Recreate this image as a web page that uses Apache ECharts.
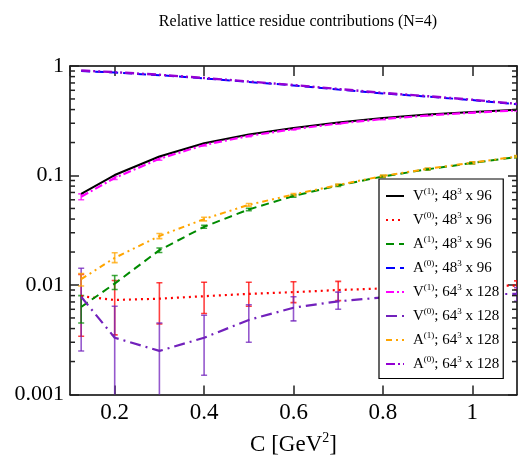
<!DOCTYPE html>
<html>
<head>
<meta charset="utf-8">
<script src="https://cdn.jsdelivr.net/npm/echarts@6/dist/echarts.min.js"></script>
<style>html,body{margin:0;padding:0;background:#fff}#main{width:518px;height:461px}</style>
</head>
<body>
<div id="main"></div>
<script>
// x values (C in GeV^2)
var xVals = [0.125, 0.2, 0.3, 0.4, 0.5, 0.6, 0.7, 0.8, 0.9, 1.0, 1.1];

// series names, ^ marks a superscript
var seriesNames = [
  'V^(1); 48^3 x 96', 'V^(0); 48^3 x 96', 'A^(1); 48^3 x 96', 'A^(0); 48^3 x 96',
  'V^(1); 64^3 x 128', 'V^(0); 64^3 x 128', 'A^(1); 64^3 x 128', 'A^(0); 64^3 x 128'
];

var V1_48 = [0.068, 0.101, 0.149, 0.197, 0.237, 0.272, 0.305, 0.335, 0.360, 0.380, 0.398];
var V0_48 = [0.0079, 0.0073, 0.0075, 0.0079, 0.0083, 0.0086, 0.0090, 0.0093, 0.0095, 0.0097, 0.0099];
var A1_48 = [0.0063, 0.0103, 0.0208, 0.034, 0.049, 0.065, 0.081, 0.098, 0.114, 0.130, 0.148];
var A0_48 = [0.900, 0.870, 0.825, 0.770, 0.715, 0.665, 0.610, 0.562, 0.525, 0.488, 0.447];
var V1_64 = [0.064, 0.095, 0.142, 0.190, 0.230, 0.265, 0.298, 0.328, 0.353, 0.375, 0.393];
var V0_64 = [0.0078, 0.0033, 0.0025, 0.0033, 0.0048, 0.0062, 0.0071, 0.0077, 0.0080, 0.0082, 0.0083];
var A1_64 = [0.0113, 0.0177, 0.028, 0.040, 0.054, 0.067, 0.082, 0.099, 0.115, 0.131, 0.149];
var A0_64 = [0.910, 0.878, 0.832, 0.777, 0.722, 0.670, 0.617, 0.568, 0.530, 0.492, 0.451];

// error bars (low / high)
var V0_48_lo = [0.0034, 0.0035, 0.0044, 0.0055, 0.0064, 0.0069, 0.0072, 0.0076, 0.0078, 0.0080, 0.0091];
var V0_48_hi = [0.0125, 0.0110, 0.0105, 0.0106, 0.0106, 0.0107, 0.0108, 0.0108, 0.0109, 0.0110, 0.0109];
var V0_64_lo = [0.0025, 0.0008, 0.0008, 0.0015, 0.0030, 0.0047, 0.0060, 0.0065, 0.0068, 0.0070, 0.0071];
var V0_64_hi = [0.0142, 0.0064, 0.0045, 0.0053, 0.0066, 0.0078, 0.0086, 0.0091, 0.0093, 0.0094, 0.0095];
var A1_48_lo = [0.0045, 0.0091, 0.0198, 0.0330, 0.0478, 0.0635, 0.0795, 0.0962, 0.112, 0.1275, 0.145];
var A1_48_hi = [0.0080, 0.0122, 0.0218, 0.0350, 0.0502, 0.0665, 0.0825, 0.0998, 0.116, 0.1325, 0.151];
var A1_64_lo = [0.0098, 0.0160, 0.0265, 0.0385, 0.0525, 0.0655, 0.0805, 0.0972, 0.113, 0.1285, 0.146];
var A1_64_hi = [0.0127, 0.0197, 0.0295, 0.0415, 0.0555, 0.0685, 0.0835, 0.1008, 0.117, 0.1335, 0.152];
var V1_64_lo = [0.060, 0.092, 0.138, 0.186, 0.226, 0.261, 0.294, 0.324, 0.349, 0.371, 0.389];
var V1_64_hi = [0.068, 0.098, 0.146, 0.194, 0.234, 0.269, 0.302, 0.332, 0.357, 0.379, 0.397];

var yTickLabels = ['0.001', '0.01', '0.1', '1'];
var minorTickValues = [0.002, 0.003, 0.004, 0.005, 0.006, 0.007, 0.008, 0.009,
  0.02, 0.03, 0.04, 0.05, 0.06, 0.07, 0.08, 0.09,
  0.2, 0.3, 0.4, 0.5, 0.6, 0.7, 0.8, 0.9];

var FONT = 'Liberation Serif';

function pairs(arr) {
  return xVals.map(function (x, i) { return [x, arr[i]]; });
}

function lineSeries(name, arr, color, dash, width) {
  return {
    type: 'line', name: name, data: pairs(arr),
    symbol: 'none', z: 3,
    lineStyle: { color: color, width: width || 2, type: dash },
    itemStyle: { color: color }
  };
}

function errSeries(lo, hi, color) {
  return {
    type: 'custom', name: 'err', silent: true, clip: true, z: 2,
    encode: { x: 0, y: [1, 2] },
    data: xVals.map(function (x, i) { return [x, lo[i], hi[i]]; }),
    renderItem: function (params, api) {
      var x = api.value(0);
      var p1 = api.coord([x, api.value(1)]);
      var p2 = api.coord([x, api.value(2)]);
      var hw = 3;
      var st = { stroke: color, lineWidth: 1.6, opacity: 0.75 };
      return {
        type: 'group', children: [
          { type: 'line', shape: { x1: p1[0], y1: p1[1], x2: p2[0], y2: p2[1] }, style: st },
          { type: 'line', shape: { x1: p1[0] - hw, y1: p1[1], x2: p1[0] + hw, y2: p1[1] }, style: st },
          { type: 'line', shape: { x1: p2[0] - hw, y1: p2[1], x2: p2[0] + hw, y2: p2[1] }, style: st }
        ]
      };
    }
  };
}

var minorTicks = {
  type: 'custom', name: 'minor', silent: true, clip: false, z: 5,
  data: minorTickValues.map(function (v) { return [0.5, v]; }),
  renderItem: function (params, api) {
    var y = api.coord([0.5, api.value(1)])[1];
    var cs = params.coordSys;
    var st = { stroke: '#222', lineWidth: 1.5 };
    return {
      type: 'group', children: [
        { type: 'line', shape: { x1: cs.x, y1: y, x2: cs.x + 5, y2: y }, style: st },
        { type: 'line', shape: { x1: cs.x + cs.width - 5, y1: y, x2: cs.x + cs.width, y2: y }, style: st }
      ]
    };
  }
};

var chart = echarts.init(document.getElementById('main'), null, { renderer: 'canvas' });

var axisLine = { show: true, lineStyle: { color: '#000', width: 1.5 } };
var tickStyle = { color: '#222', width: 1.5 };

var option = {
  animation: false,
  backgroundColor: '#fff',
  title: {
    text: 'Relative lattice residue contributions (N=4)',
    left: 298, top: 14, textAlign: 'center', padding: 0,
    textStyle: { fontFamily: FONT, fontSize: 16, fontWeight: 'normal', color: '#000' }
  },
  grid: { left: 70, right: 1, top: 66, bottom: 63 },
  xAxis: [{
    type: 'value', min: 0.1, max: 1.1, splitNumber: 5,
    axisLine: axisLine,
    axisTick: { inside: true, length: 9, lineStyle: tickStyle },
    splitLine: { show: false },
    axisLabel: { showMinLabel: false, showMaxLabel: false, margin: 7, fontFamily: FONT, fontSize: 23, color: '#000' },
    name: 'C [GeV{sup|2}]', nameLocation: 'middle', nameGap: 37,
    nameTextStyle: {
      fontFamily: FONT, fontSize: 23, color: '#000',
      rich: { sup: { fontFamily: FONT, fontSize: 14, color: '#000', padding: [0, 0, 12, 0] } }
    }
  }, {
    type: 'value', min: 0.1, max: 1.1, splitNumber: 5, position: 'top',
    axisLine: axisLine,
    axisTick: { inside: true, length: 10, lineStyle: tickStyle },
    splitLine: { show: false }, axisLabel: { show: false }
  }],
  yAxis: [{
    type: 'log', logBase: 10, min: 0.001, max: 1,
    axisLine: axisLine,
    axisTick: { inside: true, length: 9, lineStyle: tickStyle },
    splitLine: { show: false },
    axisLabel: {
      margin: 6, fontFamily: FONT, fontSize: 22, color: '#000',
      formatter: function (v) { return yTickLabels[Math.round(Math.log10(v)) + 3]; }
    }
  }, {
    type: 'log', logBase: 10, min: 0.001, max: 1, position: 'right',
    axisLine: axisLine,
    axisTick: { inside: true, length: 9, lineStyle: tickStyle },
    splitLine: { show: false }, axisLabel: { show: false }
  }],
  legend: {
    data: seriesNames, orient: 'vertical', left: 379, top: 179, z: 10,
    backgroundColor: '#fff', borderColor: '#000', borderWidth: 1.2, borderRadius: 0,
    padding: [8, 4, 7, 6], itemWidth: 18, itemHeight: 12, itemGap: 7.5,
    selectedMode: false,
    itemStyle: { opacity: 0 },
    textStyle: {
      fontFamily: FONT, fontSize: 15, color: '#000', padding: [0, 0, 0, 4],
      rich: {
        sup: { fontFamily: FONT, fontSize: 9, color: '#000', padding: [0, 0, 9, 0] }
      }
    },
    formatter: function (name) {
      return name.replace(/\^(\(\d\)|\d)/g, '{sup|$1}');
    }
  },
  series: [
    errSeries(V0_48_lo, V0_48_hi, '#ff0000'),
    errSeries(V0_64_lo, V0_64_hi, '#7221bc'),
    errSeries(A1_48_lo, A1_48_hi, '#008b00'),
    errSeries(A1_64_lo, A1_64_hi, '#ffa500'),
    errSeries(V1_64_lo, V1_64_hi, '#ff00ff'),
    lineSeries(seriesNames[0], V1_48, '#000000', 'solid', 2),
    lineSeries(seriesNames[1], V0_48, '#ff0000', [2, 4], 2.2),
    lineSeries(seriesNames[2], A1_48, '#008b00', [8, 5], 2),
    lineSeries(seriesNames[3], A0_48, '#0000ff', [9, 5], 2),
    lineSeries(seriesNames[4], V1_64, '#ff00ff', [8, 3, 2, 3], 2.2),
    lineSeries(seriesNames[5], V0_64, '#7221bc', [11, 5, 2, 5], 2.2),
    lineSeries(seriesNames[6], A1_64, '#ffa500', [6, 4, 2, 4, 2, 4], 2),
    lineSeries(seriesNames[7], A0_64, '#9400d3', [9, 3, 2, 3, 2, 3], 2.4),
    minorTicks
  ]
};

chart.setOption(option);
</script>
</body>
</html>
